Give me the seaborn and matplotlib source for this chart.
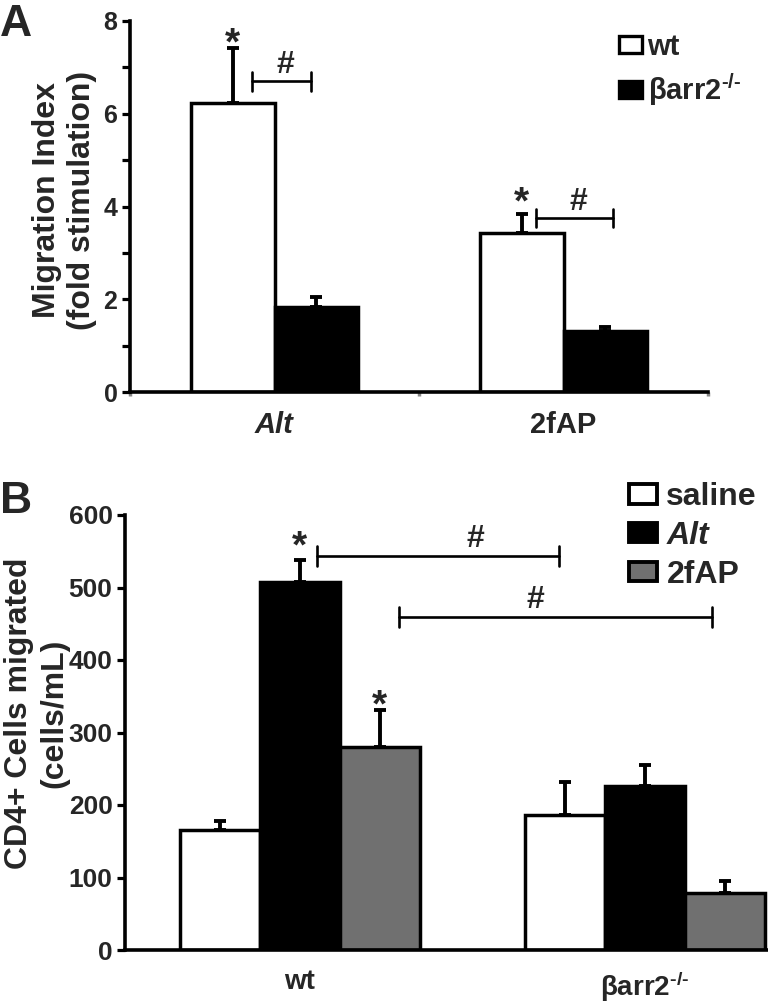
import matplotlib
matplotlib.use('Agg')
import matplotlib.pyplot as plt
import seaborn as sns
import pandas as pd
import numpy as np
from matplotlib.patches import Patch

# ---------------- Panel A data ----------------
a_treatments = ['Alt', '2fAP']
a_genotypes = ['wt', 'βarr2$^{\\mathbf{‐/‐}}$']
a_wt_mean = [6.23, 3.43]
a_wt_sem = [1.19, 0.41]
a_ko_mean = [1.83, 1.32]
a_ko_sem = [0.22, 0.08]
a_yticks = [0, 2, 4, 6, 8]

# ---------------- Panel B data ----------------
b_genotypes = ['wt', 'βarr2$^{\\mathbf{‐/‐}}$']
b_treatments = ['saline', 'Alt', '2fAP']
b_saline_mean = [165, 186]
b_saline_sem = [13, 46]
b_alt_mean = [508, 226]
b_alt_sem = [30, 29]
b_2fap_mean = [280, 78]
b_2fap_sem = [51, 17]
b_yticks = [0, 100, 200, 300, 400, 500, 600]

sns.set_theme(style='white')
plt.rcParams['font.family'] = ['Liberation Sans', 'DejaVu Sans']
plt.rcParams['font.weight'] = 'bold'
plt.rcParams['mathtext.fontset'] = 'custom'
plt.rcParams['mathtext.rm'] = 'Liberation Sans'
plt.rcParams['mathtext.bf'] = 'Liberation Sans:bold'
plt.rcParams['mathtext.it'] = 'Liberation Sans:italic'

GRAY = '#707070'
LW = 2.5

fig = plt.figure(figsize=(7.68, 10.06), dpi=100)
axA = fig.add_axes([130/768, 1-392/1006, (708-130)/768, (392-21)/1006])
axB = fig.add_axes([125/768, 1-950/1006, (768-125)/768, (950-515)/1006])

def style_axes(ax):
    for s in ['top', 'right']:
        ax.spines[s].set_visible(False)
    for s in ['left', 'bottom']:
        ax.spines[s].set_linewidth(2.6)
        ax.spines[s].set_color('black')

# ---------------- Panel A ----------------
dfA = pd.DataFrame({
    'treatment': a_treatments * 2,
    'genotype': [a_genotypes[0]] * 2 + [a_genotypes[1]] * 2,
    'value': a_wt_mean + a_ko_mean,
})
sns.barplot(data=dfA, x='treatment', y='value', hue='genotype',
            palette=['white', 'black'], edgecolor='black', linewidth=LW,
            width=0.58, errorbar=None, legend=False, saturation=1, ax=axA)
semsA = [a_wt_sem, a_ko_sem]
meansA = [a_wt_mean, a_ko_mean]
xA = {}
barsA = list(axA.containers)
for i, cont in enumerate(barsA):
    xs = [p.get_x() + p.get_width()/2 for p in cont]
    xA[i] = xs
    axA.errorbar(xs, meansA[i], yerr=[np.zeros(len(xs)), semsA[i]], fmt='none',
                 ecolor='black', elinewidth=2.8, capsize=4.5, capthick=2.8, zorder=5)
axA.set_xlim(-0.5, 1.5)
axA.set_ylim(0, 8)
axA.set_yticks(a_yticks)
axA.set_yticks([1, 3, 5, 7], minor=True)
axA.set_xticks([-0.5, 0.5, 1.5], minor=True)
axA.tick_params(axis='y', which='both', direction='out', length=6, width=2.3,
                labelsize=18, pad=3, left=True, color='black')
axA.tick_params(axis='x', which='major', length=0, labelsize=21, pad=14)
axA.tick_params(axis='x', which='minor', direction='out', length=3, width=2.5,
                color='#888888', bottom=True)
for lab in axA.get_xticklabels():
    lab.set_fontweight('bold')
    if lab.get_text() == 'Alt':
        lab.set_fontstyle('italic')
for lab in axA.get_yticklabels():
    lab.set_fontweight('bold')
axA.set_xlabel('')
axA.set_ylabel('Migration Index\n(fold stimulation)', fontsize=23, fontweight='bold',
               linespacing=1.2)
axA.yaxis.set_label_coords(-0.057, 0.517)
style_axes(axA)

# stars above wt bars
a_star_off = [-5, 0]
for x, m, s, off in zip(xA[0], a_wt_mean, a_wt_sem, a_star_off):
    axA.annotate('*', (x, m + s), xytext=(0, off), textcoords='offset points',
                 ha='center', va='baseline', fontsize=28, fontweight='bold')
# # brackets
a_br_y = [6.7, 3.75]
a_br_x = [(-0.078, 0.126), (0.905, 1.171)]
a_hash_x = [0.036, 1.05]
for (x0, x1), y, hx in zip(a_br_x, a_br_y, a_hash_x):
    axA.plot([x0, x1], [y, y], color='black', lw=1.9)
    axA.plot([x0, x0], [y - 0.2, y + 0.2], color='black', lw=1.9)
    axA.plot([x1, x1], [y - 0.2, y + 0.2], color='black', lw=1.9)
    axA.annotate('#', (hx, y), xytext=(0, 6), textcoords='offset points',
                 ha='center', va='baseline', fontsize=23, fontweight='heavy')

hA = [Patch(facecolor='white', edgecolor='black', linewidth=2.4),
      Patch(facecolor='black', edgecolor='black', linewidth=2.4)]
fig.legend(hA, a_genotypes, loc='upper left', bbox_to_anchor=(619/768, 1-33/1006),
           frameon=False, handlelength=0.78, handleheight=0.55, handletextpad=0.2,
           labelspacing=0.35, prop={'size': 21, 'weight': 'bold'}, borderaxespad=0,
           borderpad=0)
fig.text(0.0, 1-36/1006, 'A', fontsize=32, fontweight='bold', ha='left', va='baseline')

# ---------------- Panel B ----------------
dfB = pd.DataFrame({
    'genotype': b_genotypes * 3,
    'treatment': [t for t in b_treatments for _ in b_genotypes],
    'value': b_saline_mean + b_alt_mean + b_2fap_mean,
})
sns.barplot(data=dfB, x='genotype', y='value', hue='treatment',
            palette=['white', 'black', GRAY], edgecolor='black', linewidth=LW,
            width=0.695, errorbar=None, legend=False, saturation=1, ax=axB)
semsB = [b_saline_sem, b_alt_sem, b_2fap_sem]
meansB = [b_saline_mean, b_alt_mean, b_2fap_mean]
xB = {}
barsB = list(axB.containers)
for i, cont in enumerate(barsB):
    xs = [p.get_x() + p.get_width()/2 for p in cont]
    xB[i] = xs
    axB.errorbar(xs, meansB[i], yerr=[np.zeros(len(xs)), semsB[i]], fmt='none',
                 ecolor='black', elinewidth=2.8, capsize=4.5, capthick=2.8, zorder=5)
axB.set_xlim(-0.507, 1.357)
axB.set_ylim(0, 600)
axB.set_yticks(b_yticks)
axB.tick_params(axis='y', direction='out', length=6, width=2.3, labelsize=19, pad=3,
                left=True, color='black')
axB.tick_params(axis='x', length=0, labelsize=20, pad=14)
for lab in axB.get_xticklabels() + axB.get_yticklabels():
    lab.set_fontweight('bold')
axB.set_xlabel('')
axB.set_ylabel('CD4+ Cells migrated\n(cells/mL)', fontsize=23, fontweight='bold',
               linespacing=1.2)
axB.yaxis.set_label_coords(-0.087, 0.545)
style_axes(axB)

# stars over wt Alt and wt 2fAP
b_star_off = {1: 2, 2: -5}
for i in [1, 2]:
    x = xB[i][0]
    top = meansB[i][0] + semsB[i][0]
    axB.annotate('*', (x, top), xytext=(0, b_star_off[i]), textcoords='offset points',
                 ha='center', va='baseline', fontsize=28, fontweight='bold')
b_br_y = [543, 459]
b_br_x = [(0.05, 0.751), (0.287, 1.195)]
b_hash_x = [0.508, 0.682]
for (x0, x1), y, hx in zip(b_br_x, b_br_y, b_hash_x):
    axB.plot([x0, x1], [y, y], color='black', lw=1.9)
    axB.plot([x0, x0], [y - 14, y + 14], color='black', lw=1.9)
    axB.plot([x1, x1], [y - 14, y + 14], color='black', lw=1.9)
    axB.annotate('#', (hx, y), xytext=(0, 7), textcoords='offset points',
                 ha='center', va='baseline', fontsize=23, fontweight='heavy')

hB = [Patch(facecolor='white', edgecolor='black', linewidth=2.8),
      Patch(facecolor='black', edgecolor='black', linewidth=2.8),
      Patch(facecolor=GRAY, edgecolor='black', linewidth=2.8)]
legB = fig.legend(hB, b_treatments, loc='upper left', bbox_to_anchor=(629/768, 1-482/1006),
                  frameon=False, handlelength=0.87, handleheight=0.57, handletextpad=0.3,
                  labelspacing=0.28, prop={'size': 23, 'weight': 'bold'}, borderaxespad=0,
                  borderpad=0)
for t in legB.get_texts():
    if t.get_text() == 'Alt':
        t.set_fontstyle('italic')
fig.text(0.0, 1-513/1006, 'B', fontsize=32, fontweight='bold', ha='left', va='baseline')

fig.savefig('out.png', dpi=100)
